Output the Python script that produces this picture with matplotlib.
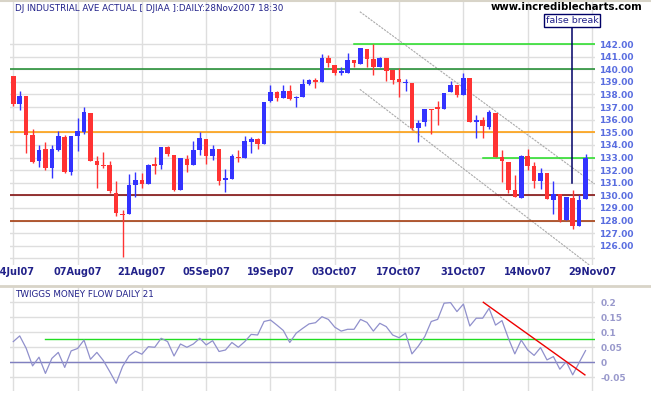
import matplotlib
matplotlib.use('Agg')
import matplotlib.pyplot as plt
from matplotlib.lines import Line2D
import numpy as np

# daily candles, price in hundreds of points (24Jul07 .. 28Nov07)
opens = [139.47, 137.26, 137.87, 134.76, 132.71, 133.64, 132.15, 133.59, 134.60, 131.84,
         134.68, 135.00, 136.52, 132.69, 132.34, 132.37, 130.21, 128.54, 128.54, 130.85,
         131.22, 130.93, 132.40, 132.41, 133.84, 133.20, 130.42, 132.88, 132.43, 133.60,
         134.47, 133.12, 133.68, 131.25, 131.30, 133.00, 133.00, 134.26, 134.47, 134.10,
         137.47, 138.18, 137.74, 138.26, 137.74, 137.82, 138.82, 139.16, 139.00, 140.87,
         140.37, 139.74, 139.74, 140.71, 140.45, 141.61, 140.78, 140.18, 140.91, 139.92,
         139.22, 138.88, 138.88, 135.32, 135.82, 136.81, 136.92, 136.81, 138.16, 138.75,
         137.97, 139.30, 135.79, 135.98, 135.45, 136.53, 133.02, 132.65, 130.44, 129.80,
         133.13, 132.34, 131.17, 131.75, 129.59, 130.09, 128.03, 129.78, 127.53, 129.67]
highs = [139.47, 138.27, 137.87, 135.24, 133.96, 134.26, 133.96, 135.08, 134.76, 134.70,
         136.12, 137.00, 136.52, 133.09, 133.40, 132.69, 131.17, 128.86, 131.69, 131.85,
         131.75, 132.49, 133.02, 133.84, 133.94, 133.20, 132.96, 133.20, 134.31, 135.00,
         134.47, 133.99, 133.68, 132.09, 133.28, 133.57, 134.74, 134.63, 134.55, 137.39,
         138.74, 138.26, 138.79, 138.74, 137.90, 139.24, 139.21, 139.32, 141.21, 141.10,
         140.37, 140.16, 141.26, 140.71, 141.68, 141.61, 142.00, 140.99, 140.91, 139.92,
         140.13, 139.22, 138.88, 135.95, 136.88, 136.88, 137.48, 138.10, 139.06, 138.75,
         139.69, 139.30, 136.40, 136.24, 136.77, 136.53, 133.60, 132.65, 131.65, 133.20,
         133.68, 132.68, 132.15, 131.75, 131.15, 130.09, 129.88, 130.41, 130.01, 133.31]
lows = [137.10, 136.76, 133.35, 132.60, 132.23, 132.00, 131.36, 133.50, 131.76, 131.60,
        133.51, 134.84, 132.71, 130.56, 132.18, 130.16, 128.32, 125.13, 128.54, 129.89,
        130.61, 130.93, 131.69, 132.12, 133.12, 130.34, 130.42, 131.85, 132.43, 133.20,
        132.51, 132.83, 130.82, 130.29, 131.30, 132.65, 133.00, 133.32, 133.68, 134.10,
        137.39, 137.47, 137.74, 137.55, 137.00, 137.82, 138.74, 138.53, 139.00, 140.18,
        139.58, 139.53, 139.74, 140.18, 140.40, 140.18, 139.58, 140.18, 139.09, 138.86,
        137.84, 138.31, 135.20, 134.21, 135.51, 134.86, 135.58, 136.81, 138.16, 137.84,
        137.97, 135.79, 134.55, 134.53, 135.24, 133.02, 131.04, 130.22, 129.88, 129.80,
        132.02, 130.59, 130.51, 129.67, 128.54, 127.90, 128.03, 127.30, 127.53, 129.67]
closes = [137.26, 137.87, 134.79, 132.63, 133.56, 132.15, 133.64, 134.68, 131.84, 134.68,
          135.08, 136.60, 132.71, 132.39, 132.30, 130.32, 128.56, 128.40, 130.82, 131.22,
          130.93, 132.41, 132.36, 133.84, 133.31, 130.42, 132.96, 132.43, 133.60, 134.55,
          133.12, 133.68, 131.16, 131.30, 133.12, 132.95, 134.32, 134.47, 134.10, 137.39,
          138.18, 137.74, 138.26, 137.63, 137.80, 138.82, 139.13, 138.97, 140.87, 140.50,
          139.74, 139.80, 140.74, 140.50, 141.68, 140.81, 140.18, 140.91, 139.87, 139.17,
          139.01, 138.90, 135.32, 135.77, 136.81, 136.78, 136.88, 138.10, 138.75, 137.97,
          139.30, 135.79, 136.00, 135.53, 136.58, 133.02, 132.76, 130.46, 129.88, 133.13,
          132.36, 131.17, 131.75, 129.70, 130.09, 128.06, 129.88, 127.53, 129.64, 132.97]

# twiggs money flow 21
tmf = [0.069, 0.088, 0.047, -0.012, 0.017, -0.037, 0.013, 0.033, -0.017, 0.038,
       0.046, 0.074, 0.010, 0.033, 0.006, -0.031, -0.070, -0.014, 0.021, 0.037,
       0.027, 0.052, 0.050, 0.080, 0.069, 0.021, 0.061, 0.050, 0.061, 0.080,
       0.058, 0.072, 0.036, 0.041, 0.066, 0.050, 0.069, 0.093, 0.091, 0.136,
       0.141, 0.124, 0.106, 0.066, 0.097, 0.113, 0.128, 0.132, 0.152, 0.143,
       0.117, 0.104, 0.110, 0.110, 0.143, 0.133, 0.104, 0.130, 0.119, 0.091,
       0.082, 0.097, 0.028, 0.054, 0.086, 0.136, 0.143, 0.197, 0.199, 0.169,
       0.194, 0.121, 0.147, 0.147, 0.180, 0.124, 0.139, 0.080, 0.028, 0.074,
       0.041, 0.023, 0.049, 0.008, 0.019, -0.023, 0.002, -0.042, -0.001, 0.039]

date_labels = ['24Jul07', '07Aug07', '21Aug07', '05Sep07', '19Sep07',
               '03Oct07', '17Oct07', '31Oct07', '14Nov07', '29Nov07']
date_pos = [0, 10, 20, 30, 40, 50, 60, 70, 80, 90]

price_ticks = list(range(126, 143))
tmf_ticks = [-0.05, 0, 0.05, 0.1, 0.15, 0.2]
tmf_labels = ['-0.05', '0', '0.05', '0.1', '0.15', '0.2']

# drawn-on levels and trend lines: (start index, end index, value)
levels = [(-1, 91, 140, '#1a8a2a'), (-1, 91, 135, '#ff9900'),
          (-1, 91, 130, '#7a0000'), (-1, 91, 128, '#a03000'),
          (53, 91, 142, '#22dd22'), (73, 91, 133, '#22dd22')]
channel_upper = ([53.9, 90.4], [144.57, 130.9])
channel_lower = ([53.9, 90.4], [138.41, 124.15])
false_break_x = 86.9
false_break_y = [131.0, 143.36]
tmf_signal = 0.077
tmf_trend = ([73.1, 88.9], [0.2, -0.042])

up_col = '#3333ff'
dn_col = '#ff3333'
navy = '#22228a'
grid_col = '#dedede'

fig = plt.figure(figsize=(6.51, 3.95), dpi=100)
ax = fig.add_axes([10 / 651, 1 - 265 / 395, 585 / 651, 263 / 395])
ax2 = fig.add_axes([10 / 651, 1 - 391 / 395, 585 / 651, 104 / 395])

x = np.arange(len(opens))
o = np.array(opens)
c = np.array(closes)
cols = [up_col if cc >= oo else dn_col for oo, cc in zip(o, c)]
ax.vlines(x, lows, highs, colors=cols, linewidth=1.0, zorder=4)
body_h = np.maximum(np.abs(c - o), 0.09)
ax.bar(x, body_h, bottom=np.minimum(o, c), width=0.72, color=cols, linewidth=0, zorder=5)

for x0, x1, lev, col in levels:
    ax.plot([x0, x1], [lev, lev], color=col, linewidth=1.1, zorder=3)
ax.plot(*channel_upper, color='#aaaaaa', linewidth=0.8, linestyle=(0, (2, 1)), zorder=2)
ax.plot(*channel_lower, color='#aaaaaa', linewidth=0.8, linestyle=(0, (2, 1)), zorder=2)

ax.plot([false_break_x, false_break_x], false_break_y, color='#000066', linewidth=1.1, zorder=6)
ax.text(false_break_x, 143.85, 'false break', ha='center', va='center', fontsize=6.8,
        color=navy, zorder=7,
        bbox=dict(boxstyle='square,pad=0.2', fc='white', ec='#000066', lw=1))

ax.set_xlim(-0.51, 90.47)
ax.set_ylim(124.47, 145.34)
ax.set_yticks([125] + price_ticks)
ax.set_yticklabels([''] + ['%.2f' % t for t in price_ticks])
ax.yaxis.tick_right()
ax.set_xticks(date_pos)
ax.set_xticklabels(date_labels)
ax.tick_params(axis='y', length=0, pad=3, labelsize=6.5, labelcolor='#5a6ee0')
ax.tick_params(axis='x', length=0, pad=1.5, labelsize=7, labelcolor=navy)
for lab in ax.get_yticklabels() + ax.get_xticklabels():
    lab.set_fontweight('bold')
ax.grid(True, color=grid_col, linewidth=1.0, zorder=0)
ax.set_axisbelow(True)
for s in ax.spines.values():
    s.set_visible(False)
ax.text(0.008, 0.993, 'DJ INDUSTRIAL AVE ACTUAL [ DJIAA ]:DAILY:28Nov2007 18:30',
        transform=ax.transAxes, ha='left', va='top', fontsize=6.3, color=navy)

# indicator panel
ax2.plot(x, tmf, color='#9090cc', linewidth=0.9, zorder=4)
ax2.plot([5, 91], [tmf_signal, tmf_signal], color='#22dd22', linewidth=1.0, zorder=3)
ax2.axhline(0, color='#8080c0', linewidth=1.0, zorder=3)
ax2.plot(*tmf_trend, color='#ee0000', linewidth=1.0, zorder=5)
ax2.set_xlim(-0.51, 90.47)
ax2.set_ylim(-0.0957, 0.251)
ax2.set_xticks(date_pos)
ax2.set_xticklabels([])
ax2.set_yticks(tmf_ticks)
ax2.set_yticklabels(tmf_labels)
ax2.yaxis.tick_right()
ax2.tick_params(axis='both', length=0)
ax2.tick_params(axis='y', pad=4, labelsize=6.5, labelcolor='#9999cc')
for lab in ax2.get_yticklabels():
    lab.set_fontweight('bold')
ax2.grid(True, color=grid_col, linewidth=1.0, zorder=0)
ax2.set_axisbelow(True)
for s in ax2.spines.values():
    s.set_visible(False)
ax2.text(0.008, 0.975, 'TWIGGS MONEY FLOW DAILY 21', transform=ax2.transAxes,
         ha='left', va='top', fontsize=6.3, color=navy)

# frame lines and site name
fig.add_artist(Line2D([0, 1], [1 - 0.5 / 395, 1 - 0.5 / 395], color='#d8d4c8', linewidth=1.5))
fig.add_artist(Line2D([0, 1], [1 - 286 / 395, 1 - 286 / 395], color='#d8d4c8', linewidth=2))
fig.text(642 / 651, 1 - 7 / 395, 'www.incrediblecharts.com', ha='right', va='center',
         fontsize=7.3, fontweight='bold', color='black')

fig.savefig('out.png', dpi=100)
